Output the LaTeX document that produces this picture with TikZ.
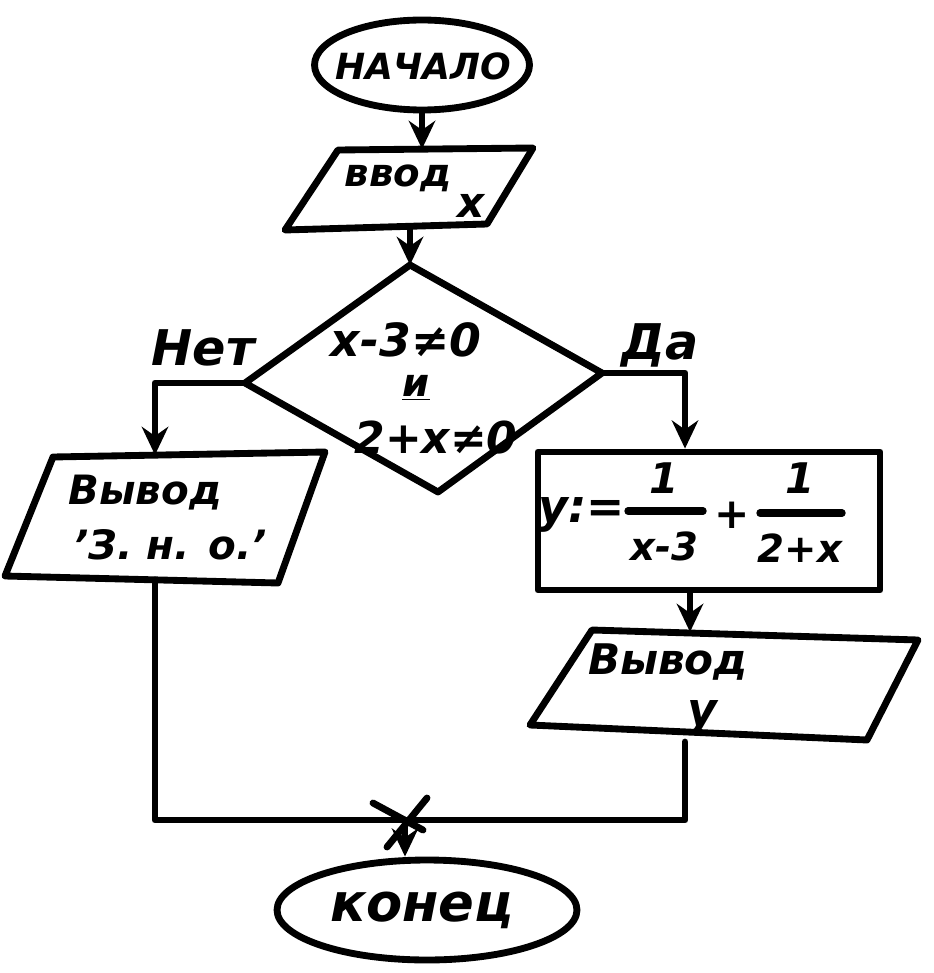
\documentclass[tikz,border=0pt]{standalone}
\usepackage{fontspec}
\setmainfont{DejaVu Sans}
\usetikzlibrary{arrows.meta,shapes.geometric}
\begin{document}
\begin{tikzpicture}[x=0.02cm,y=-0.02cm,
  line width=3.9pt, line join=round, line cap=round,
  flow/.style={-{Stealth[length=16pt,width=15pt]}},
  term/.style={draw, ellipse, inner sep=0pt},
  txt/.style={inner sep=0pt, font=\fontsize{#1}{#1}\selectfont\bfseries\itshape},
  txt/.default=26,
  bar/.style={line width=4.2pt},
]
\useasboundingbox (0,0) rectangle (933,973);

% terminals
\node[term, minimum width=4.3cm, minimum height=1.8cm] (start) at (422,65) {};
\node[txt=20.5] (startlbl) at (423,66) {НАЧАЛО};
\node[term, minimum width=6cm, minimum height=2cm] (stop) at (427,910) {};
\node[txt=30] (stoplbl) at (422,910) {конец};

% input x
\coordinate (inTL) at (338,150); \coordinate (inTR) at (533,148);
\coordinate (inBR) at (487,224); \coordinate (inBL) at (285,230);
\draw (inTL) -- (inTR) -- (inBR) -- (inBL) -- cycle;
\coordinate (inTop) at (422,149); \coordinate (inBot) at (410,227);
\node[txt=22] (inlbl) at (398,178) {ввод};
\node[txt=24] (inx) at (471,206) {x};

% decision
\coordinate (dT) at (410,265); \coordinate (dR) at (602,373);
\coordinate (dB) at (438,492); \coordinate (dL) at (245,383);
\draw (dT) -- (dR) -- (dB) -- (dL) -- cycle;
\node[txt=26] (c1) at (406,340) {x-3≠0};
\node[txt=22] (c2) at (416,388) {\underline{и}};
\node[txt=25] (c3) at (436,438) {2+x≠0};
\node[txt=28] (no) at (203,348) {Нет};
\node[txt=28] (yes) at (660,345) {Да};

% left output
\coordinate (lTL) at (53,457); \coordinate (lTR) at (325,452);
\coordinate (lBR) at (278,583); \coordinate (lBL) at (5,576);
\draw (lTL) -- (lTR) -- (lBR) -- (lBL) -- cycle;
\coordinate (lTop) at (155,455); \coordinate (lBot) at (155,580);
\node[txt=23] (l1) at (145,493) {Вывод};
\node[txt=23] (l2) at (170,545) {'З. н. о.'};

% assignment y := 1/(x-3) + 1/(2+x)
\node[draw, minimum width=6.84cm, minimum height=2.76cm, inner sep=0pt] (calc) at (709,521) {};
\node[txt=26] (cy) at (582,515) {y:=};
\node[txt=24] (n1) at (664,478) {1};
\node[txt=22] (d1) at (664,546) {x-3};
\node[txt=24] (cplus) at (732,515) {+};
\node[txt=24] (n2) at (800,478) {1};
\node[txt=22] (d2) at (800,548) {2+x};
\draw[bar] (628,511) -- (703,511);
\draw[bar] (760,513) -- (842,513);

% right output
\coordinate (rTL) at (592,630); \coordinate (rTR) at (918,640);
\coordinate (rBR) at (867,740); \coordinate (rBL) at (530,725);
\draw (rTL) -- (rTR) -- (rBR) -- (rBL) -- cycle;
\coordinate (rTop) at (690,632); \coordinate (rBot) at (685,742);
\node[txt=24] (r1) at (668,662) {Вывод};
\node[txt=26] (r2) at (702,718) {y};

% connectors
\coordinate (join) at (405,820);
\coordinate (lTurn) at (155,383); \coordinate (rTurn) at (685,373);
\coordinate (lCorner) at (155,820); \coordinate (rCorner) at (685,820);
\draw[flow] (start.south) -- (inTop);
\draw[flow] (inBot) -- (dT);
\draw[flow] (dL) -- (lTurn) -- (lTop);
\draw[flow] (dR) -- (rTurn) -- (rTurn |- calc.north);
\draw[flow] (calc.south -| rTop) -- (rTop);
\draw (lBot) -- (lCorner) -- (join);
\draw (rBot) -- (rCorner) -- (join);
\draw ([shift={(-32,-17)}]join) -- ([shift={(18,10)}]join);
\draw ([shift={(22,-22)}]join) -- ([shift={(-18,27)}]join);
\draw[flow] (join) -- (join |- stop.north);
\end{tikzpicture}
\end{document}
